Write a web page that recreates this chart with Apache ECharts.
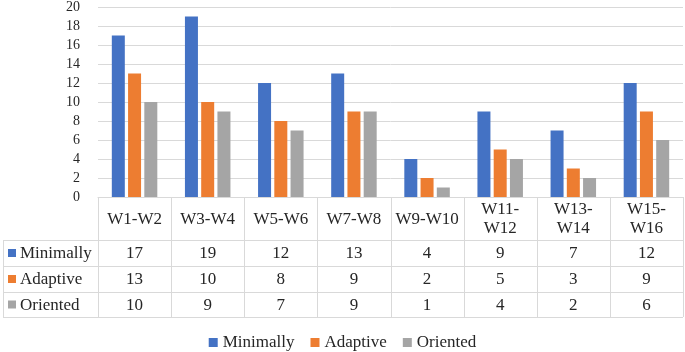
<!DOCTYPE html>
<html><head><meta charset="utf-8">
<script src="https://cdn.jsdelivr.net/npm/echarts@6/dist/echarts.min.js"></script>
<style>html,body{margin:0;padding:0;background:#fff}#c{width:685px;height:352px}</style>
</head><body><div id="c"></div>
<script>
const categories = ['W1-W2','W3-W4','W5-W6','W7-W8','W9-W10','W11-W12','W13-W14','W15-W16'];
const headerLabels = ['W1-W2','W3-W4','W5-W6','W7-W8','W9-W10','W11-\nW12','W13-\nW14','W15-\nW16'];
const seriesNames = ['Minimally','Adaptive','Oriented'];
const minimally = [17,19,12,13,4,9,7,12];
const adaptive = [13,10,8,9,2,5,3,9];
const oriented = [10,9,7,9,1,4,2,6];
const colors = ['#4472C4','#ED7D31','#A5A5A5'];
const seriesData = [minimally, adaptive, oriented];

const FONT = 'Liberation Serif';
const chart = echarts.init(document.getElementById('c'), null, {renderer:'canvas'});
chart.setOption({
  animation:false,
  color: colors,
  grid:{left:98,right:2,top:6,bottom:155},
  legend:{
    data: seriesNames, top: 329, left:'center', icon:'rect', itemWidth:9, itemHeight:9, itemGap:16,
    textStyle:{fontFamily:FONT,fontSize:17,color:'#262626'}
  },
  xAxis:{type:'category',data:categories,
    axisLine:{show:true,lineStyle:{color:'#D9D9D9',width:1}},
    axisTick:{show:false},axisLabel:{show:false},splitLine:{show:false}},
  yAxis:{type:'value',min:0,max:20,interval:2,
    axisLine:{show:false},axisTick:{show:false},
    axisLabel:{fontFamily:FONT,fontSize:14,color:'#262626',margin:18},
    splitLine:{lineStyle:{color:'#D9D9D9',width:1}}},
  series: seriesNames.map((n,i)=>({name:n,type:'bar',data:seriesData[i],barWidth:13,barGap:'25%'}))
});

function drawTable(){
  const n = categories.length;
  const c0 = chart.convertToPixel({xAxisIndex:0}, 0);
  const c1 = chart.convertToPixel({xAxisIndex:0}, 1);
  const band = c1 - c0;
  const xLeft = c0 - band/2;
  const xRight = xLeft + band*n;
  const yTop = chart.convertToPixel({yAxisIndex:0}, 0);
  const rows = [yTop, yTop+43, yTop+69, yTop+95, yTop+120];
  const tableLeft = 3;
  const lc = '#D9D9D9';
  const g = [];
  const line = (x1,y1,x2,y2)=>g.push({type:'line',shape:{x1,y1,x2,y2},style:{stroke:lc,lineWidth:1},silent:true});
  for(let r=1;r<rows.length;r++) line(tableLeft, rows[r]+0.5, xRight, rows[r]+0.5);
  line(xLeft, rows[0]+0.5, xRight, rows[0]+0.5);
  line(tableLeft+0.5, rows[1], tableLeft+0.5, rows[4]);
  for(let i=0;i<=n;i++){ const x=Math.round(xLeft+band*i)+0.5; line(x, rows[0], x, rows[4]); }
  const txt = (text,x,y,align)=>g.push({type:'text',x,y,silent:true,style:{text,fill:'#262626',fontFamily:FONT,fontSize:17,align:align||'center',verticalAlign:'middle',lineHeight:19}});
  for(let i=0;i<n;i++){
    const cx = xLeft+band*(i+0.5);
    txt(headerLabels[i], cx, (rows[0]+rows[1])/2+1);
    for(let s=0;s<3;s++) txt(String(seriesData[s][i]), cx, (rows[s+1]+rows[s+2])/2+1);
  }
  for(let s=0;s<3;s++){
    const cy=(rows[s+1]+rows[s+2])/2;
    g.push({type:'rect',shape:{x:8,y:cy-4,width:8,height:8},style:{fill:colors[s]},silent:true});
    txt(seriesNames[s], 20, cy+1, 'left');
  }
  chart.setOption({graphic:g});
}
drawTable();
</script></body></html>
